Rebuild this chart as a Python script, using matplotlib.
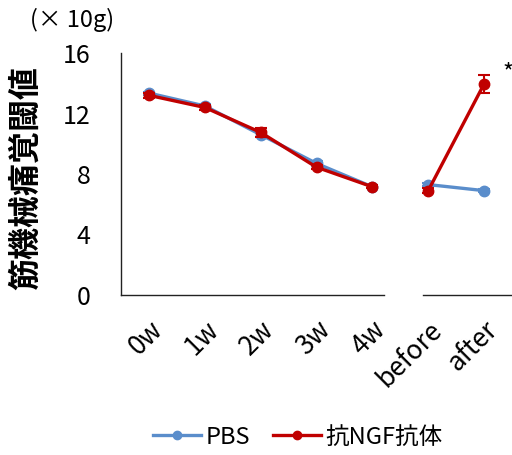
import matplotlib

matplotlib.use("Agg")
import matplotlib.pyplot as plt
from matplotlib.lines import Line2D
import numpy as np

plt.rcParams["font.family"] = ["Noto Sans CJK JP", "DejaVu Sans"]

categories = ["0w", "1w", "2w", "3w", "4w", "before", "after"]
pbs = [13.35, 12.5, 10.6, 8.7, 7.15, 7.3, 6.9]
ngf = [13.2, 12.4, 10.75, 8.45, 7.15, 6.9, 13.95]
ngf_err = [0.15, 0.15, 0.3, 0.15, 0.1, 0.15, 0.6]
pbs_err = [0.1, 0.1, 0.15, 0.15, 0.1, 0.1, 0.1]
yticks = [0, 4, 8, 12, 16]

BLUE = "#5a8dcb"
RED = "#c00000"

fig = plt.figure(figsize=(5.12, 4.55), dpi=100)
ax = fig.add_axes([121 / 512, 1 - 295 / 455, 391 / 512, 242 / 455])

x = np.arange(len(categories))
segments = [slice(0, 5), slice(5, 7)]
for vals, errs, color in [(pbs, pbs_err, BLUE), (ngf, ngf_err, RED)]:
    vals = np.array(vals)
    errs = np.array(errs)
    for seg in segments:
        ax.errorbar(
            x[seg], vals[seg], yerr=errs[seg], color=color, lw=2.4, marker="o",
            markersize=7.5, capsize=4, elinewidth=1.5, capthick=1.5,
            zorder=3 if color == RED else 2,
        )

ax.text(6.33, 14.7, "*", fontsize=17, ha="left", va="center")

ax.set_xlim(-0.5, 6.5)
ax.set_ylim(0, 16)
ax.set_yticks(yticks)
ax.set_xticks(x)
ax.set_xticklabels(categories, rotation=45, ha="right", rotation_mode="anchor", fontsize=19)
ax.tick_params(axis="y", length=0, pad=22, labelsize=18)
ax.tick_params(axis="x", length=0, pad=15)
for s in ["top", "right", "bottom"]:
    ax.spines[s].set_visible(False)
ax.spines["left"].set_linewidth(1.0)
ax.spines["left"].set_color("#222222")
# broken bottom axis
ax.axhline(0, xmin=0, xmax=(4.21 + 0.5) / 7, color="#222222", lw=1.0, clip_on=False)
ax.axhline(0, xmin=(4.91 + 0.5) / 7, xmax=1, color="#222222", lw=1.0, clip_on=False)

fig.text(26 / 512, 1 - 178 / 455, "筋機械痛覚閾値", rotation=90, fontsize=23,
         fontweight="bold", ha="center", va="center")
fig.text(30 / 512, 1 - 20 / 455, "(× 10g)", fontsize=17, ha="left", va="center")

handles = [
    Line2D([], [], color=BLUE, lw=2.4, marker="o", markersize=6),
    Line2D([], [], color=RED, lw=2.4, marker="o", markersize=6),
]
fig.legend(handles, ["PBS", "抗NGF抗体"], loc="center", bbox_to_anchor=(298 / 512, 1 - 437 / 455),
           ncol=2, frameon=False, fontsize=17, handlelength=2.0, columnspacing=1.0,
           handletextpad=0.2)

fig.savefig("out.png", dpi=100)
